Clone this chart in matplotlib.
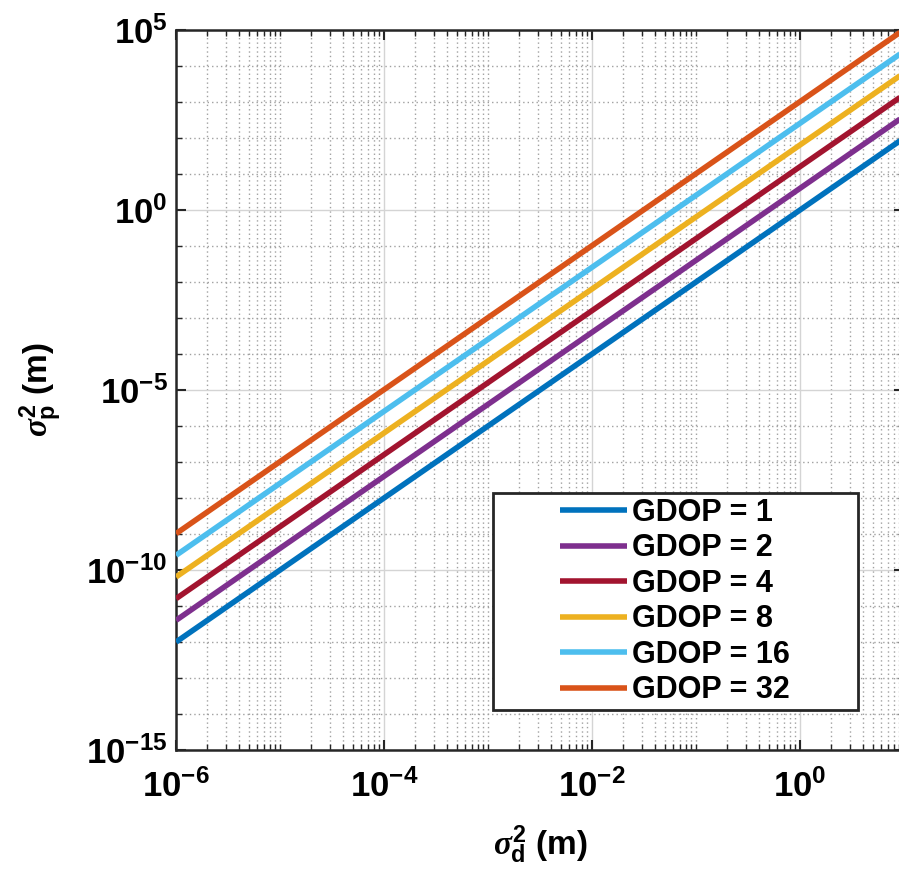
import numpy as np
import matplotlib
matplotlib.use("Agg")
import matplotlib.pyplot as plt
from matplotlib.ticker import FixedLocator, NullFormatter, FixedFormatter
from matplotlib.patches import Rectangle

# ── Data ──────────────────────────────────────────────────────────────────────
gdop_values = [1, 2, 4, 8, 16, 32]
sigma_d = [1e-6, 1e1]                       # range of ranging variance (m)
sigma_p_gdop1 = [1e-12, 1e2]
sigma_p_gdop2 = [4e-12, 4e2]
sigma_p_gdop4 = [1.6e-11, 1.6e3]
sigma_p_gdop8 = [6.4e-11, 6.4e3]
sigma_p_gdop16 = [2.56e-10, 2.56e4]
sigma_p_gdop32 = [1.024e-9, 1.024e5]
series = [sigma_p_gdop1, sigma_p_gdop2, sigma_p_gdop4,
          sigma_p_gdop8, sigma_p_gdop16, sigma_p_gdop32]

x_major = [1e-6, 1e-4, 1e-2, 1e0]
x_tick_labels = ["-6", "-4", "-2", "0"]
y_major = [1e-15, 1e-10, 1e-5, 1e0, 1e5]
y_tick_labels = ["-15", "-10", "-5", "0", "5"]

colors = ["#0072BD", "#7E2F8E", "#A2142F", "#EDB120", "#4DBEEE", "#D95319"]

# ── Fonts ─────────────────────────────────────────────────────────────────────
plt.rcParams["font.family"] = ["Liberation Sans", "DejaVu Sans"]
plt.rcParams["font.weight"] = "bold"
plt.rcParams["mathtext.fontset"] = "custom"
plt.rcParams["mathtext.rm"] = "Liberation Sans:bold"
plt.rcParams["mathtext.bf"] = "Liberation Sans:bold"
plt.rcParams["mathtext.it"] = "Liberation Serif:italic"

fig = plt.figure(figsize=(8.99, 8.76), dpi=100)
ax = fig.add_axes([0.1958, 0.1438, 0.8098, 0.8220])

for gdop, vals, c in zip(gdop_values, series, colors):
    ax.loglog(sigma_d, vals, color=c, lw=4.0, solid_capstyle="butt",
              label=f"GDOP = {gdop}", zorder=3)

ax.set_xlim(1e-6, 1e1)
ax.set_ylim(1e-15, 1e5)

# ticks: majors labelled, minor grid every decade / sub-decade
ax.xaxis.set_major_locator(FixedLocator(x_major))
ax.xaxis.set_major_formatter(FixedFormatter([r"$\mathrm{10^{%s}}$" % s for s in x_tick_labels]))
x_minor = [m * 10.0 ** k for k in range(-6, 1) for m in range(1, 10)]
x_minor = [v for v in x_minor if v not in x_major] + [1e1]
ax.xaxis.set_minor_locator(FixedLocator(x_minor))
ax.xaxis.set_minor_formatter(NullFormatter())

ax.yaxis.set_major_locator(FixedLocator(y_major))
ax.yaxis.set_major_formatter(FixedFormatter([r"$\mathrm{10^{%s}}$" % s for s in y_tick_labels]))
y_minor = [10.0 ** k for k in range(-15, 6) if 10.0 ** k not in y_major]
ax.yaxis.set_minor_locator(FixedLocator(y_minor))
ax.yaxis.set_minor_formatter(NullFormatter())

ax.tick_params(which="both", direction="in", top=True, right=True,
               labelsize=25, color="#262626")
ax.tick_params(which="major", length=7, width=1.5)
ax.tick_params(which="minor", length=4, width=1.0)
ax.tick_params(axis="y", which="major", pad=6)
ax.tick_params(axis="x", which="major", pad=14)

ax.grid(which="major", color="#d4d4d4", lw=1.0, ls="-", zorder=0)
ax.grid(which="minor", color="#a0a0a0", lw=1.0, ls=(0, (1, 2.2)), zorder=0)
ax.set_axisbelow(True)
for sp in ax.spines.values():
    sp.set_color("#262626")
    sp.set_linewidth(1.8)

ax.set_xlabel(r"$\sigma_{\mathbf{d}}^{\mathbf{2}}$ (m)", fontsize=24, fontweight="bold", labelpad=14)
ax.set_ylabel(r"$\sigma_{\mathbf{p}}^{\mathbf{2}}$ (m)", fontsize=24, fontweight="bold", labelpad=16)

# legend box drawn wider than its entries, entries centred inside
box = Rectangle((0.4354, 0.0556), 0.5014, 0.3014, transform=ax.transAxes,
                facecolor="white", edgecolor="#262626", lw=2.0, zorder=5)
ax.add_patch(box)
leg = ax.legend(loc="center", bbox_to_anchor=(0.6854, 0.2063), frameon=False,
                fontsize=22, handlelength=2.2, handletextpad=0.15,
                labelspacing=0.18, borderpad=0.0)
leg.set_zorder(6)
for t in leg.get_texts():
    t.set_fontweight("bold")

fig.savefig("out.png", dpi=100)
